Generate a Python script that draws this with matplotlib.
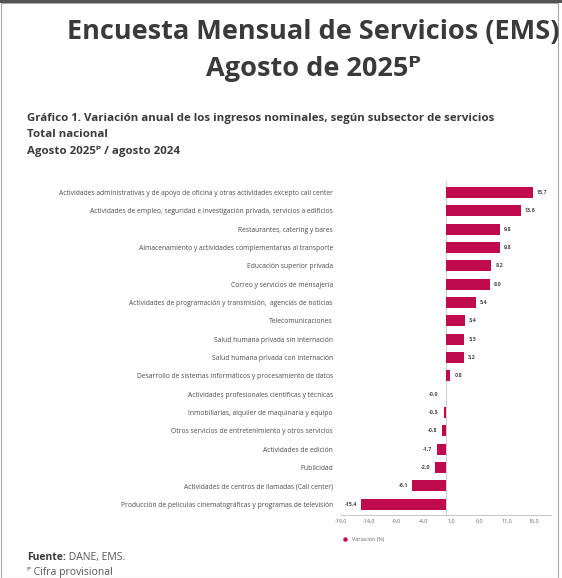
import matplotlib.pyplot as plt
from matplotlib.patches import Rectangle

plt.rcParams['font.family'] = ['Open Sans', 'DejaVu Sans']

# Data
subsectores = [
    'Actividades administrativas y de apoyo de oficina y otras actividades excepto call center',
    'Actividades de empleo, seguridad e investigación privada, servicios a edificios',
    'Restaurantes, catering y bares',
    'Almacenamiento y actividades complementarias al transporte',
    'Educación superior privada',
    'Correo y servicios de mensajería',
    'Actividades de programación y transmisión,  agencias de noticias',
    'Telecomunicaciones',
    'Salud humana privada sin internación',
    'Salud humana privada con internación',
    'Desarrollo de sistemas informáticos y procesamiento de datos',
    'Actividades profesionales científicas y técnicas',
    'Inmobiliarias, alquiler de maquinaria y equipo',
    'Otros servicios de entretenimiento y otros servicios',
    'Actividades de edición',
    'Publicidad',
    'Actividades de centros de llamadas (Call center)',
    'Producción de películas cinematográficas y programas de televisión',
]
variacion = [15.7, 13.6, 9.8, 9.8, 8.2, 8.0, 5.4, 3.4, 3.3, 3.2, 0.8,
             -0.0, -0.3, -0.8, -1.7, -2.0, -6.1, -15.4]
xticks = [-19, -14, -9, -4, 1, 6, 11, 16]

color_bar = '#C00A4E'
dark = '#3a3a3a'

fig = plt.figure(figsize=(5.62, 5.78), dpi=100)
ax = fig.add_axes([0.607, 0.109, 0.373, 0.577])

y = range(len(subsectores))
ax.barh(y, variacion, height=0.6, color=color_bar, zorder=3)
ax.axvline(0, color='#d0d0d0', lw=0.8, zorder=1)

# Value labels
for yi, v in zip(y, variacion):
    txt = f'{v:.1f}'.replace('.', ',')
    if v >= 0 and txt != '-0,0':
        ax.annotate(txt, xy=(v, yi), xytext=(3, 0), textcoords='offset points',
                    ha='left', va='center', fontsize=3.9, color='#4a4a4a', fontweight='bold')
    else:
        ax.annotate(txt, xy=(min(v, -0.6), yi), xytext=(-3, 0), textcoords='offset points',
                    ha='right', va='center', fontsize=3.9, color='#4a4a4a', fontweight='bold')

ax.set_yticks(list(y))
ax.set_yticklabels(subsectores, fontsize=4.85, color='#4a4a4a')
ax.set_ylim(17.6, -0.6)
ax.set_xlim(-19, 19)
ax.set_xticks(xticks)
ax.set_xticklabels([f'{t:.1f}'.replace('.', ',') for t in xticks], fontsize=3.9, color='#666666')
ax.tick_params(axis='both', length=0, pad=3)
ax.tick_params(axis='y', pad=6)
for s in ['top', 'right', 'left']:
    ax.spines[s].set_visible(False)
ax.spines['bottom'].set_color('#bbbbbb')
ax.spines['bottom'].set_linewidth(0.6)

# Legend
ax.plot([], [], 'o', color=color_bar, markersize=2.2, label='Variación (%)')
ax.legend(loc='upper left', bbox_to_anchor=(-0.02, -0.06), frameon=False,
          fontsize=3.9, handletextpad=0.3, borderaxespad=0, labelcolor='#666666')

# Titles
fig.text(0.558, 0.944, 'Encuesta Mensual de Servicios (EMS)', ha='center', va='center',
         fontsize=19.5, fontweight='bold', color=dark)
fig.text(0.558, 0.880, 'Agosto de 2025ᴾ', ha='center', va='center',
         fontsize=19.5, fontweight='bold', color=dark)

fig.text(0.048, 0.795, 'Gráfico 1. Variación anual de los ingresos nominales, según subsector de servicios',
         ha='left', va='center', fontsize=8.25, fontweight='bold', color=dark)
fig.text(0.048, 0.767, 'Total nacional', ha='left', va='center', fontsize=8.25,
         fontweight='bold', color=dark)
fig.text(0.048, 0.738, 'Agosto 2025ᴾ / agosto 2024', ha='left', va='center', fontsize=8.25,
         fontweight='bold', color=dark)

# Footer
t1 = fig.text(0.048, 0.036, 'Fuente:', ha='left', va='center', fontsize=7.5,
              fontweight='bold', color=dark)
ax.annotate(' DANE, EMS.', xy=(1, 0.5), xycoords=t1, ha='left', va='center',
            fontsize=7.5, color='#555555', annotation_clip=False)
fig.text(0.048, 0.010, 'ᴾ Cifra provisional', ha='left', va='center', fontsize=7.5,
         color='#555555')

# Frame
fig.add_artist(Rectangle((0.002, 0.0), 0.99, 0.995, transform=fig.transFigure,
                         fill=False, edgecolor='#aaaaaa', lw=0.8))
fig.add_artist(Rectangle((0.0, 0.995), 1.0, 0.005, transform=fig.transFigure,
                         color='#555555', lw=0))

fig.savefig('out.png', dpi=100)
